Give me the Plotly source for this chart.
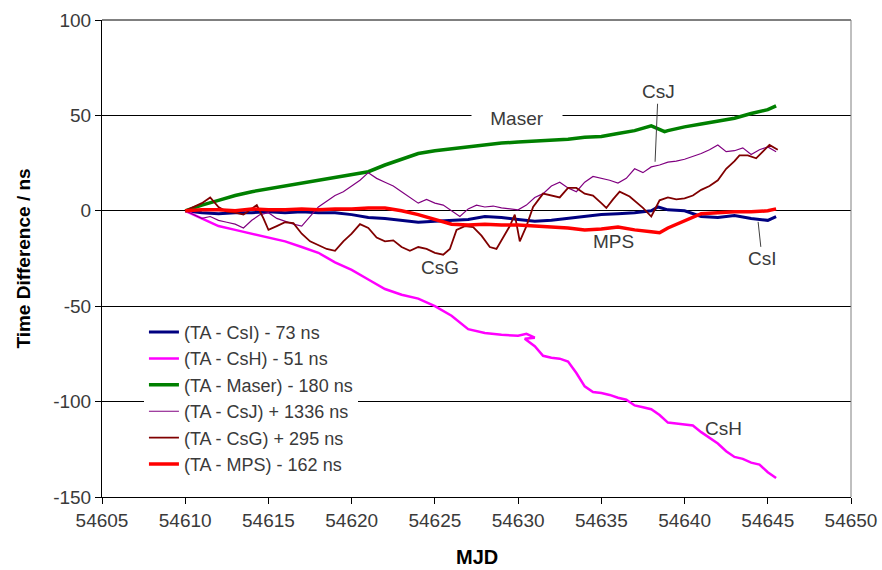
import plotly.graph_objects as go

# ---------------- data ----------------
csi_x = [54610, 54611, 54612, 54613, 54614, 54615, 54616, 54617, 54618, 54619,
         54620, 54621, 54622, 54623, 54624, 54625, 54626, 54627, 54628, 54629,
         54630, 54631, 54632, 54633, 54634, 54635, 54636, 54637, 54638, 54638.4,
         54639, 54640, 54641, 54642, 54643, 54644, 54645, 54645.5]
csi_y = [0, -1, -1.5, -1, -1, -0.5, -1, -0.5, -1, -1,
         -2, -3.5, -4, -5, -6, -5.5, -5, -4.5, -3, -3.5,
         -4.5, -5.5, -5, -4, -3, -2, -1.5, -1, 0, 2,
         0.5, 0, -3, -3.5, -2.5, -4, -5, -3]

csh_x = [54610, 54611, 54612, 54613, 54614, 54615, 54616, 54617, 54618, 54619,
         54620, 54621, 54622, 54623, 54624, 54625, 54626, 54627, 54628, 54629,
         54630, 54630.5, 54631, 54630.4, 54631, 54631.5, 54632, 54632.5, 54633, 54633.5,
         54634, 54634.5, 54635, 54635.5, 54636, 54636.5, 54637, 54637.5, 54638, 54638.5,
         54639, 54639.5, 54640, 54640.5, 54641, 54641.5, 54642, 54642.5, 54643, 54643.5,
         54644, 54644.5, 54645, 54645.5]
csh_y = [0, -4, -8, -10, -12, -14, -16, -19, -22, -27,
         -31, -36, -41, -44, -46, -50, -55, -62, -64, -65,
         -65.5, -64.5, -66.5, -67, -71, -76, -77, -77.5, -79, -85,
         -92, -95, -95.5, -96.5, -98, -99, -102, -103, -104, -107,
         -111, -111.5, -112, -112.5, -116, -119, -122, -126, -129, -130,
         -132, -133, -137, -140]

maser_x = [54610, 54611, 54612, 54613, 54614, 54615, 54616, 54617, 54618, 54619,
           54620, 54621, 54622, 54623, 54624, 54625, 54626, 54627, 54628, 54629,
           54630, 54631, 54632, 54633, 54634, 54635, 54636, 54637, 54638, 54638.8,
           54639, 54640, 54641, 54642, 54643, 54644, 54645, 54645.5]
maser_y = [0, 3, 5.5, 8, 10, 11.5, 13, 14.5, 16, 17.5,
           19, 20.5, 24, 27, 30, 31.5, 32.5, 33.5, 34.5, 35.5,
           36, 36.5, 37, 37.5, 38.5, 39, 40.5, 42, 44.5, 41.5,
           42, 44, 45.5, 47, 48.5, 51, 53, 55]

csj_x = [54610, 54610.5, 54611, 54611.5, 54612, 54612.5, 54613, 54613.5, 54614, 54614.5,
         54615, 54615.5, 54616, 54616.5, 54617, 54617.5, 54618, 54618.5, 54619, 54619.5,
         54620, 54620.5, 54621, 54621.5, 54622, 54622.5, 54623, 54623.5, 54624, 54624.5,
         54625, 54625.5, 54626, 54626.5, 54627, 54627.5, 54628, 54628.5, 54629, 54629.5,
         54630, 54630.5, 54631, 54631.5, 54632, 54632.5, 54633, 54633.5, 54634, 54634.5,
         54635, 54635.5, 54636, 54636.5, 54637, 54637.5, 54638, 54638.5, 54639, 54639.5,
         54640, 54640.5, 54641, 54641.5, 54642, 54642.5, 54643, 54643.5, 54644, 54644.5,
         54645, 54645.5]
csj_y = [0, -2, -4, -3, -5, -6, -7, -9, -5, -2,
         -1, -4, -5.5, -7, -8, -3, 2, 5, 8, 10,
         13, 16, 20, 17, 15, 13, 10, 7, 4, 6,
         4, 3, 0, -3, 1, 3, 2, 2.5, 1.5, 1,
         0.5, 3, 7, 9, 13, 15, 12, 10, 15, 18,
         17, 16, 14.5, 17, 22, 20, 23, 24, 25.5, 26,
         27, 28.5, 30, 32, 34.5, 31, 31.5, 33, 29.5, 32,
         33.5, 31]

csg_x = [54610, 54610.5, 54611, 54611.5, 54612, 54612.5, 54613, 54613.5, 54614, 54614.3,
         54614.7, 54615, 54615.5, 54616, 54616.5, 54617, 54617.5, 54618, 54618.5, 54619,
         54619.5, 54620, 54620.5, 54621, 54621.5, 54622, 54622.5, 54623, 54623.5, 54624,
         54624.5, 54625, 54625.5, 54625.9, 54626.3, 54626.8, 54627.3, 54627.8, 54628.3, 54628.7,
         54629.1, 54629.5, 54629.8, 54630.1, 54630.5, 54630.9, 54631.5, 54632, 54632.5, 54633,
         54633.5, 54634, 54634.5, 54635, 54635.3, 54635.7, 54636.1, 54636.7, 54637.2, 54637.5,
         54638, 54638.5, 54639, 54639.5, 54640, 54640.5, 54641, 54641.5, 54642, 54642.5,
         54643, 54643.3, 54643.8, 54644.3, 54644.7, 54645.1, 54645.6]
csg_y = [0, 2, 4, 7, 2, -0.5, -1, -2, 1, 3,
         -4, -10, -8, -6, -6.5, -12, -16, -18, -20, -21,
         -16, -12, -7, -9, -14, -16, -15.5, -19, -21, -19,
         -20, -22, -23, -20, -10, -8, -8.5, -13, -19, -20,
         -14, -8, -2, -16, -8, 2, 9, 8, 7, 12,
         12, 9, 8, 4, 1.5, 6, 10, 7.5, 4, 1.5,
         -3, 5.5, 7, 6, 6.5, 8, 11, 13, 16, 22,
         26, 29, 29, 27.5, 31, 34.5, 32]

mps_x = [54610, 54611, 54612, 54613, 54614, 54615, 54616, 54617, 54618, 54619,
         54620, 54621, 54622, 54623, 54624, 54625, 54626, 54627, 54628, 54629,
         54630, 54631, 54632, 54633, 54634, 54635, 54636, 54637, 54638, 54638.5,
         54639, 54640, 54641, 54642, 54643, 54644, 54645, 54645.5]
mps_y = [0, 0.5, 0.5, 0, 1, 0.5, 0.5, 1, 0.5, 1,
         1, 1.5, 1.5, 0, -2, -4.5, -7, -7.5, -7, -7.5,
         -7.5, -8, -8.5, -9, -10, -9.5, -8.5, -10, -11, -11.5,
         -9, -5, -1.5, -1, -0.5, -0.5, 0, 1]

series_names = ["(TA - CsI) - 73 ns", "(TA - CsH) - 51 ns", "(TA - Maser) - 180 ns",
                "(TA - CsJ) + 1336 ns", "(TA - CsG) + 295 ns", "(TA - MPS) - 162 ns"]
series_colors = ["#000080", "#FF00FF", "#008000", "#800080", "#800000", "#FF0000"]
series_widths = [3, 2.5, 3.5, 1.2, 1.8, 3.5]

x_ticks = [54605, 54610, 54615, 54620, 54625, 54630, 54635, 54640, 54645, 54650]
y_ticks = [-150, -100, -50, 0, 50, 100]

FONT = "Arial, 'Liberation Sans', sans-serif"
TXT = "#3a3a3a"

fig = go.Figure()
for xs, ys, name, col, w in zip(
        [csi_x, csh_x, maser_x, csj_x, csg_x, mps_x],
        [csi_y, csh_y, maser_y, csj_y, csg_y, mps_y],
        series_names, series_colors, series_widths):
    fig.add_trace(go.Scatter(x=xs, y=ys, mode="lines", name=name,
                             line=dict(color=col, width=w)))

# labels on the curves
labels = [
    dict(text="Maser", x=54629.94, y=48.2, bg=True),
    dict(text="CsG", x=54625.31, y=-29.9, bg=False),
    dict(text="MPS", x=54635.71, y=-16.2, bg=False),
    dict(text="CsH", x=54642.32, y=-114.3, bg=False),
]
for lb in labels:
    fig.add_annotation(x=lb["x"], y=lb["y"], text=lb["text"], showarrow=False,
                       xanchor="center", yanchor="middle",
                       font=dict(family=FONT, size=19, color=TXT),
                       bgcolor="white" if lb["bg"] else "rgba(0,0,0,0)",
                       width=88 if lb["bg"] else None)

fig.add_annotation(x=54638.23, y=25.7, text="CsJ", showarrow=True, arrowhead=0,
                   arrowwidth=1, arrowcolor="#404040", ax=3, ay=-70, standoff=0,
                   font=dict(family=FONT, size=19, color=TXT))
fig.add_annotation(x=54644.42, y=-5.8, text="CsI", showarrow=True, arrowhead=0,
                   arrowwidth=1, arrowcolor="#404040", ax=4, ay=37, standoff=0,
                   font=dict(family=FONT, size=19, color=TXT))

# x-axis title placed as paper annotation (kept inside the page)
fig.add_annotation(xref="paper", yref="paper", x=0.5, y=-0.151, text="<b>MJD</b>",
                   showarrow=False, xanchor="center", yanchor="bottom",
                   font=dict(family=FONT, size=20, color="#000000"),
                   borderpad=0)

# frame: top and right edges
fig.add_shape(type="line", xref="paper", yref="paper", x0=0, x1=1, y0=1, y1=1,
              line=dict(color="#000000", width=1))
fig.add_shape(type="line", xref="paper", yref="paper", x0=1, x1=1, y0=0, y1=1,
              line=dict(color="#808080", width=1))

fig.update_layout(
    width=882, height=570,
    margin=dict(l=102, r=31, t=20, b=73, autoexpand=False),
    paper_bgcolor="white", plot_bgcolor="white",
    font=dict(family=FONT, size=19, color=TXT),
    showlegend=True,
    legend=dict(x=0.056, y=0.384, xanchor="left", yanchor="top",
                bgcolor="white", borderwidth=0,
                font=dict(family=FONT, size=18, color=TXT)),
    xaxis=dict(range=[54605, 54650], tickvals=x_ticks,
               ticktext=[str(v) for v in x_ticks], automargin=False,
               showgrid=False, zeroline=False, showline=True,
               linecolor="#000000", linewidth=1,
               ticks="outside", ticklen=6, tickcolor="#000000",
               tickfont=dict(family=FONT, size=19, color=TXT)),
    yaxis=dict(range=[-150, 100], tickvals=y_ticks,
               ticktext=[str(v) for v in y_ticks], automargin=False,
               showgrid=True, gridcolor="#000000", gridwidth=1,
               zeroline=False, showline=True,
               linecolor="#000000", linewidth=1,
               ticks="outside", ticklen=6, tickcolor="#000000",
               tickfont=dict(family=FONT, size=19, color=TXT),
               title=dict(text="<b>Time Difference / ns</b>", standoff=17,
                          font=dict(family=FONT, size=19, color="#000000"))),
)

fig.write_html("out.html")
